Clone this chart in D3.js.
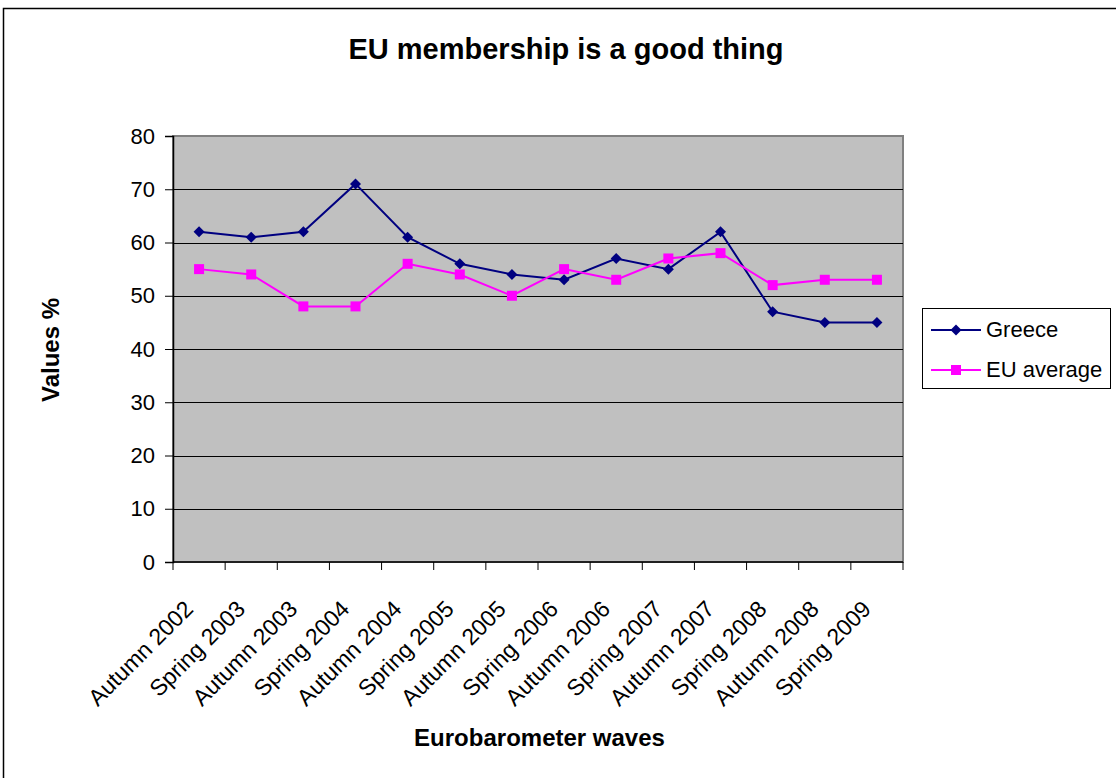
<!DOCTYPE html>
<html><head><meta charset="utf-8">
<script src="https://cdn.jsdelivr.net/npm/d3@7"></script>
<style>body{margin:0;background:#fff;font-family:"Liberation Sans",Arial,sans-serif;}</style>
</head><body>
<svg id="c" width="1116" height="778"></svg>
<script>
const categories = ["Autumn 2002","Spring 2003","Autumn 2003","Spring 2004","Autumn 2004","Spring 2005","Autumn 2005","Spring 2006","Autumn 2006","Spring 2007","Autumn 2007","Spring 2008","Autumn 2008","Spring 2009"];
const greece = [62,61,62,71,61,56,54,53,57,55,62,47,45,45];
const euAverage = [55,54,48,48,56,54,50,55,53,57,58,52,53,53];
const yTicks = [0,10,20,30,40,50,60,70,80];

const svg = d3.select("#c");
const font = '"Liberation Sans", Arial, sans-serif';
// outer border
svg.append("rect").attr("x",3.5).attr("y",8.5).attr("width",1120).attr("height",780)
  .attr("fill","#fff").attr("stroke","#000").attr("stroke-width",1.5);

const L=173, R=903, T=136, B=562;
const x = d3.scaleBand().domain(categories).range([L,R]);
const y = d3.scaleLinear().domain([0,80]).range([B,T]);
const cx = c => x(c) + x.bandwidth()/2;

svg.append("rect").attr("x",L).attr("y",T).attr("width",R-L).attr("height",B-T)
  .attr("fill","#C0C0C0").attr("stroke","#808080").attr("stroke-width",2);

// gridlines
svg.append("g").selectAll("line").data(yTicks.filter(d=>d>0 && d<80)).join("line")
  .attr("x1",L).attr("x2",R).attr("y1",d=>Math.round(y(d))+0.5).attr("y2",d=>Math.round(y(d))+0.5)
  .attr("stroke","#000").attr("stroke-width",1);

// y axis
const yAxis = svg.append("g").attr("transform",`translate(${L},0)`)
  .call(d3.axisLeft(y).tickValues(yTicks).tickSize(8).tickPadding(10));
yAxis.select(".domain").attr("stroke","#000").attr("stroke-width",1.5);
yAxis.selectAll("text").attr("font-family",font).attr("font-size",22).attr("fill","#000");
yAxis.selectAll("line").attr("stroke","#000");

// x axis
const xg = svg.append("g").attr("transform",`translate(0,${B})`);
xg.append("line").attr("x1",L).attr("x2",R).attr("stroke","#000").attr("stroke-width",1.5);
const bounds = categories.map(c=>x(c)).concat([R]);
xg.selectAll("line.t").data(bounds).join("line").attr("class","t")
  .attr("x1",d=>d).attr("x2",d=>d).attr("y1",0).attr("y2",8).attr("stroke","#000");
xg.selectAll("text").data(categories).join("text")
  .attr("transform",d=>`translate(${cx(d)-16},${37}) rotate(-45)`)
  .attr("text-anchor","end").attr("dy","0.7em")
  .attr("font-family",font).attr("font-size",23).attr("fill","#000").text(d=>d);

// lines
const line = d3.line().x((d,i)=>cx(categories[i])).y(d=>y(d));
svg.append("path").datum(greece).attr("d",line).attr("fill","none").attr("stroke","#000080").attr("stroke-width",2);
svg.append("path").datum(euAverage).attr("d",line).attr("fill","none").attr("stroke","#FF00FF").attr("stroke-width",2);

const dia = "M0,-5.5L5.5,0L0,5.5L-5.5,0Z";
svg.append("g").selectAll("path").data(greece).join("path")
  .attr("d",dia)
  .attr("transform",(d,i)=>`translate(${cx(categories[i])},${y(d)})`)
  .attr("fill","#000080");
svg.append("g").selectAll("rect").data(euAverage).join("rect")
  .attr("x",(d,i)=>cx(categories[i])-5).attr("y",d=>y(d)-5)
  .attr("width",10).attr("height",10).attr("fill","#FF00FF");

// title
svg.append("text").attr("x",566).attr("y",59).attr("text-anchor","middle")
  .attr("font-family",font).attr("font-size",29).attr("font-weight","bold").text("EU membership is a good thing");
// axis titles
svg.append("text").attr("transform","translate(59,350) rotate(-90)").attr("text-anchor","middle")
  .attr("font-family",font).attr("font-size",24).attr("font-weight","bold").text("Values %");
svg.append("text").attr("x",539.5).attr("y",746).attr("text-anchor","middle")
  .attr("font-family",font).attr("font-size",24).attr("font-weight","bold").text("Eurobarometer waves");

// legend
const lg = svg.append("g");
lg.append("rect").attr("x",922.5).attr("y",308.5).attr("width",188).attr("height",80)
  .attr("fill","#fff").attr("stroke","#000").attr("stroke-width",1);
const items=[{n:"Greece",c:"#000080",s:"d",y:330},{n:"EU average",c:"#FF00FF",s:"s",y:370}];
items.forEach(it=>{
  lg.append("line").attr("x1",931).attr("x2",981).attr("y1",it.y).attr("y2",it.y).attr("stroke",it.c).attr("stroke-width",2);
  if(it.s==="d") lg.append("path").attr("d",dia).attr("transform",`translate(956,${it.y})`).attr("fill",it.c);
  else lg.append("rect").attr("x",951).attr("y",it.y-5).attr("width",10).attr("height",10).attr("fill",it.c);
  lg.append("text").attr("x",986).attr("y",it.y+7).attr("font-family",font).attr("font-size",22).text(it.n);
});
</script>
</body></html>
